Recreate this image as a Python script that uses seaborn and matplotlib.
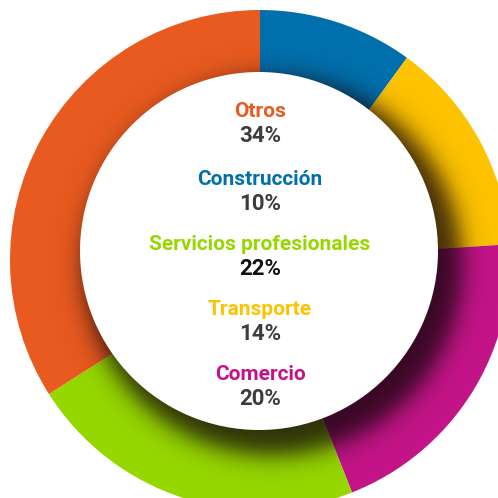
import numpy as np
import matplotlib
matplotlib.use("Agg")
from matplotlib import pyplot as plt
from matplotlib.patches import Circle
import seaborn as sns

# sectores, en el orden del anillo (desde arriba, en sentido horario)
sectores = ["Construcción", "Transporte", "Comercio", "Servicios profesionales", "Otros"]
porcentajes = [10, 14, 20, 22, 34]
colores = ["#0070AD", "#FDC300", "#C31487", "#96D700", "#E85A1F"]

# orden de las etiquetas en el centro
orden_etiquetas = ["Otros", "Construcción", "Servicios profesionales", "Transporte", "Comercio"]

W = H = 498


def py(y):
    """pixel y (desde arriba) -> coordenada del eje"""
    return H - y


sns.set_theme(style="white")
plt.rcParams["font.family"] = ["Roboto", "DejaVu Sans"]

fig = plt.figure(figsize=(W / 100, H / 100), dpi=100)
ax = fig.add_axes([0, 0, 1, 1])

centro = (260, py(260))
ax.pie(porcentajes, colors=colores, startangle=90, counterclock=False,
       radius=250, center=centro, frame=True,
       wedgeprops=dict(width=130, linewidth=0))
ax.set_xlim(0, W)
ax.set_ylim(0, H)
ax.set_aspect("equal")
ax.axis("off")

# sombra difusa bajo el círculo blanco
cx_b, cy_b, r_b = 259, 251, 179
xx, yy = np.meshgrid(np.arange(W) + 0.5, np.arange(H) + 0.5)
d = np.hypot(xx - (cx_b + 14), yy - (cy_b + 15))
alpha = 0.8 / (1 + np.exp((d - (r_b + 10)) / 7.0))
sombra = np.zeros((H, W, 4))
sombra[..., 0] = 0.08
sombra[..., 1] = 0.02
sombra[..., 2] = 0.05
sombra[..., 3] = alpha
ax.imshow(sombra, extent=(0, W, 0, H), origin="upper", zorder=2, interpolation="bilinear")

ax.add_patch(Circle((cx_b, py(cy_b)), r_b, facecolor="white", edgecolor="none", zorder=3))

color_de = dict(zip(sectores, colores))
valor_de = dict(zip(sectores, porcentajes))
base_y = [117, 185, 250, 315, 380]
for nombre, y in zip(orden_etiquetas, base_y):
    ax.text(260, py(y), nombre, color=color_de[nombre], fontsize=15,
            fontweight="bold", ha="center", va="baseline", zorder=4)
    tono = "#111111" if nombre == "Servicios profesionales" else "#3C3C3C"
    ax.text(260, py(y + 25), f"{valor_de[nombre]}%", color=tono, fontsize=16,
            fontweight="bold", ha="center", va="baseline", zorder=4)

fig.savefig("out.png", dpi=100)
